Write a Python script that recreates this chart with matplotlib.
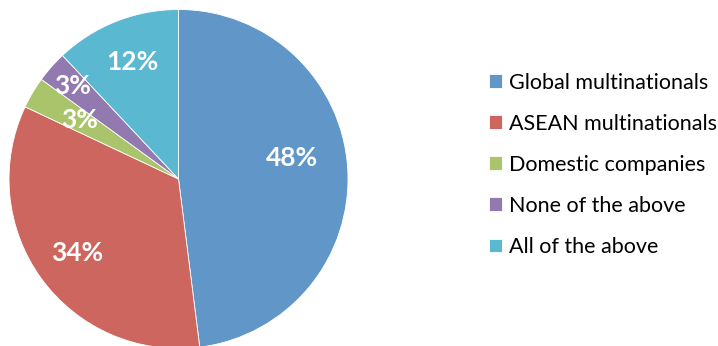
import numpy as np
import matplotlib
matplotlib.use("Agg")
import matplotlib.pyplot as plt

# survey shares per company type
categories = ["Global multinationals", "ASEAN multinationals",
              "Domestic companies", "None of the above", "All of the above"]
shares = [48, 34, 3, 3, 12]
colors = ["#6196C8", "#CD665F", "#A9C46B", "#9279B0", "#5BB8D1"]

# where each percentage sits: fraction of radius, and a nudge in degrees
label_r = [0.68, 0.74, 0.68, 0.83, 0.74]
label_turn = [6.8, 0, 0, 0, 0]

plt.rcParams['font.family'] = ['Lato', 'DejaVu Sans']

W, H = 718, 346
fig = plt.figure(figsize=(W / 100, H / 100), dpi=100)

# pie axes, sized in pixels
cx, cy, r = 178.5, 179, 169.5
ax = fig.add_axes([(cx - r) / W, (H - cy - r) / H, 2 * r / W, 2 * r / H])

wedges, _ = ax.pie(shares, colors=colors, startangle=90, counterclock=False,
                   radius=1.0, wedgeprops=dict(edgecolor="white", linewidth=0.6))
ax.set_xlim(-1, 1)
ax.set_ylim(-1, 1)
ax.set_aspect("equal")
ax.axis("off")

for w, val, rr, turn in zip(wedges, shares, label_r, label_turn):
    mid = np.deg2rad((w.theta1 + w.theta2) / 2 + turn)
    ax.text(rr * np.cos(mid), rr * np.sin(mid), f"{val}%", ha="center", va="center",
            color="white", fontsize=19, fontweight="bold")

leg = fig.legend(wedges, categories, loc="upper left",
                 bbox_to_anchor=(480 / W, 1 - 64 / H), frameon=False,
                 fontsize=15.5, handlelength=0.6, handleheight=0.6,
                 handletextpad=0.33, labelspacing=0.98, borderaxespad=0)

fig.savefig("out.png", dpi=100)
